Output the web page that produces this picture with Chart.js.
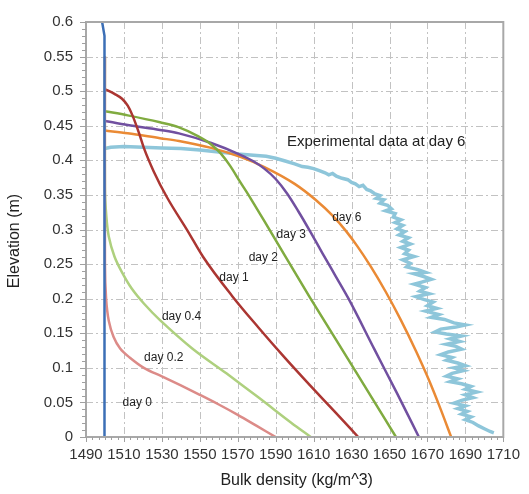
<!DOCTYPE html>
<html>
<head>
<meta charset="utf-8">
<script src="https://cdn.jsdelivr.net/npm/chart.js@4/dist/chart.umd.min.js"></script>
<style>
  html, body { margin: 0; padding: 0; background: #fff; }
</style>
</head>
<body>
<canvas id="chart" width="529" height="494"></canvas>
<script>
// axis ticks
const xTicks = [1490, 1510, 1530, 1550, 1570, 1590, 1610, 1630, 1650, 1670, 1690, 1710];
const yTicks = [0, 0.05, 0.1, 0.15, 0.2, 0.25, 0.3, 0.35, 0.4, 0.45, 0.5, 0.55, 0.6];

// simulated profiles (bulk density, elevation)
const day0X = [1500, 1500, 1499.5, 1498.5];
const day0Y = [0, 0.56, 0.58, 0.6];

const day02X = [1500, 1500, 1500.6, 1502, 1504.5, 1508, 1513, 1520.5, 1530, 1540, 1550, 1560, 1570, 1580, 1590];
const day02Y = [0.55, 0.25, 0.2, 0.168, 0.145, 0.128, 0.115, 0.1, 0.0875, 0.0745, 0.061, 0.047, 0.032, 0.016, 0];

const day04X = [1500, 1500, 1500.7, 1502, 1505, 1509, 1514, 1520.5, 1529, 1546, 1564, 1581, 1598, 1608.5];
const day04Y = [0.55, 0.36, 0.32, 0.29, 0.261, 0.238, 0.215, 0.193, 0.169, 0.128, 0.092, 0.057, 0.021, 0];

const day1X = [1500, 1505, 1509, 1512, 1514.5, 1518, 1520.5, 1525.7, 1532.6, 1543.8, 1551.6, 1567, 1581, 1595, 1608, 1621, 1633.5];
const day1Y = [0.503, 0.496, 0.489, 0.479, 0.465, 0.439, 0.418, 0.384, 0.347, 0.297, 0.261, 0.204, 0.158, 0.114, 0.075, 0.037, 0];

const day2X = [1500, 1512, 1529, 1538.7, 1549, 1556, 1561, 1566, 1571, 1577, 1586, 1608, 1631, 1653.4];
const day2Y = [0.471, 0.465, 0.455, 0.448, 0.435, 0.423, 0.41, 0.392, 0.37, 0.344, 0.303, 0.202, 0.1, 0];

const day3X = [1500, 1512, 1529, 1539, 1556, 1571.4, 1578, 1584, 1590, 1596, 1602, 1608, 1614.6, 1621.5, 1628.4, 1642, 1654, 1665.5];
const day3Y = [0.457, 0.451, 0.444, 0.439, 0.425, 0.408, 0.399, 0.388, 0.373, 0.352, 0.326, 0.298, 0.266, 0.233, 0.2, 0.127, 0.063, 0];

const day6X = [1500, 1512, 1529, 1539, 1556, 1571.4, 1583.5, 1600, 1611, 1620, 1627, 1633, 1640, 1648, 1656, 1664, 1671, 1677, 1682.5];
const day6Y = [0.443, 0.439, 0.432, 0.428, 0.418, 0.405, 0.391, 0.366, 0.343, 0.32, 0.298, 0.276, 0.247, 0.21, 0.169, 0.124, 0.081, 0.04, 0];

// measured profile at day 6
const expX = [1500, 1503, 1510, 1520, 1530, 1540, 1550, 1560, 1570, 1580, 1585, 1590, 1595, 1600, 1604, 1607, 1610, 1613, 1616, 1618, 1620, 1622, 1625, 1628, 1630, 1632, 1634, 1636, 1638, 1640, 1642, 1645, 1643, 1647, 1645, 1649, 1651, 1648, 1653, 1652, 1656, 1653, 1657, 1654, 1658, 1655, 1660, 1657, 1661, 1656, 1660, 1658, 1663, 1657, 1661, 1659, 1665, 1669, 1663, 1668, 1672, 1667, 1663, 1669, 1666, 1671, 1664, 1668, 1673, 1670, 1675, 1669, 1676, 1672, 1679, 1684, 1690, 1685, 1677, 1674, 1680, 1688, 1682, 1687, 1680, 1685, 1688, 1681, 1677, 1683, 1680, 1686, 1690, 1684, 1689, 1683, 1680, 1686, 1682, 1688, 1693, 1690, 1696, 1690, 1694, 1688, 1684, 1690, 1686, 1691, 1688, 1693, 1690, 1694, 1697, 1700, 1703, 1705];
const expY = [0.417, 0.419, 0.42, 0.419, 0.418, 0.417, 0.415, 0.412, 0.409, 0.407, 0.406, 0.403, 0.399, 0.395, 0.391, 0.39, 0.388, 0.385, 0.382, 0.379, 0.381, 0.377, 0.374, 0.372, 0.368, 0.366, 0.362, 0.364, 0.358, 0.356, 0.352, 0.349, 0.345, 0.343, 0.338, 0.335, 0.33, 0.327, 0.323, 0.318, 0.314, 0.31, 0.306, 0.301, 0.297, 0.292, 0.288, 0.283, 0.279, 0.274, 0.27, 0.265, 0.261, 0.256, 0.251, 0.246, 0.242, 0.238, 0.236, 0.232, 0.228, 0.224, 0.221, 0.216, 0.211, 0.207, 0.203, 0.199, 0.195, 0.19, 0.186, 0.182, 0.177, 0.173, 0.17, 0.165, 0.162, 0.159, 0.156, 0.152, 0.149, 0.146, 0.142, 0.138, 0.134, 0.131, 0.127, 0.123, 0.119, 0.115, 0.111, 0.107, 0.103, 0.1, 0.096, 0.092, 0.088, 0.084, 0.08, 0.077, 0.073, 0.069, 0.065, 0.061, 0.057, 0.053, 0.049, 0.045, 0.041, 0.037, 0.033, 0.029, 0.025, 0.021, 0.016, 0.012, 0.008, 0.006];

const pts = (xs, ys) => xs.map((x, i) => ({ x: x, y: ys[i] }));
const font = '"Liberation Sans", Arial, sans-serif';

function curve(xs, ys, color, width, smooth) {
    return {
        data: pts(xs, ys),
        showLine: true,
        borderColor: color,
        borderWidth: width,
        pointRadius: 0,
        tension: smooth === 'bezier' ? 0.35 : 0,
        cubicInterpolationMode: smooth === 'monotone' ? 'monotone' : 'default',
        fill: false
    };
}

// text on the plot, placed in data units
const notes = [
    { text: 'day 0', x: 1517, y: 0.05, size: 12 },
    { text: 'day 0.2', x: 1531, y: 0.114, size: 12 },
    { text: 'day 0.4', x: 1540.4, y: 0.174, size: 12 },
    { text: 'day 1', x: 1568, y: 0.23, size: 12 },
    { text: 'day 2', x: 1583.5, y: 0.259, size: 12 },
    { text: 'day 3', x: 1598.2, y: 0.292, size: 12 },
    { text: 'day 6', x: 1627.5, y: 0.317, size: 12 },
    { text: 'Experimental data at day 6', x: 1643, y: 0.427, size: 15 }
];

const frame = {
    id: 'frame',
    beforeDatasetsDraw(chart) {
        const ctx = chart.ctx, a = chart.chartArea;
        const sx = chart.scales.x, sy = chart.scales.y;
        ctx.save();
        ctx.strokeStyle = '#c2c2c2';
        ctx.lineWidth = 1;
        ctx.setLineDash([7, 3, 2, 3]);
        xTicks.slice(1, -1).forEach(v => {
            const px = Math.round(sx.getPixelForValue(v)) + 0.5;
            ctx.beginPath(); ctx.moveTo(px, a.top); ctx.lineTo(px, a.bottom); ctx.stroke();
        });
        yTicks.slice(1, -1).forEach(v => {
            const py = Math.round(sy.getPixelForValue(v)) + 0.5;
            ctx.beginPath(); ctx.moveTo(a.left, py); ctx.lineTo(a.right, py); ctx.stroke();
        });
        ctx.restore();
    },
    afterDatasetsDraw(chart) {
        const ctx = chart.ctx, a = chart.chartArea;
        const sx = chart.scales.x, sy = chart.scales.y;
        ctx.save();
        // frame
        ctx.strokeStyle = '#a8a8a8';
        ctx.lineWidth = 2;
        ctx.strokeRect(a.left, a.top, a.right - a.left, a.bottom - a.top);
        // major + minor ticks
        ctx.strokeStyle = '#a0a0a0';
        ctx.lineWidth = 1;
        for (let i = 0; i <= 66; i++) {
            const v = 1490 + i * 20 / 6;
            const px = Math.round(sx.getPixelForValue(v)) + 0.5;
            const len = i % 6 === 0 ? 5 : 3;
            ctx.beginPath(); ctx.moveTo(px, a.bottom); ctx.lineTo(px, a.bottom + len); ctx.stroke();
        }
        for (let i = 0; i <= 60; i++) {
            const py = Math.round(sy.getPixelForValue(i / 100)) + 0.5;
            const len = i % 5 === 0 ? 6 : 4;
            ctx.beginPath(); ctx.moveTo(a.left - len, py); ctx.lineTo(a.left, py); ctx.stroke();
        }
        // notes
        ctx.fillStyle = '#222';
        ctx.textAlign = 'center';
        ctx.textBaseline = 'middle';
        notes.forEach(n => {
            ctx.font = n.size + 'px ' + font;
            ctx.fillText(n.text, sx.getPixelForValue(n.x), sy.getPixelForValue(n.y));
        });
        // axis titles
        ctx.font = '16px ' + font;
        ctx.fillText('Bulk density (kg/m^3)', (a.left + a.right) / 2 + 2, 481);
        ctx.translate(15, 241);
        ctx.rotate(-Math.PI / 2);
        ctx.fillText('Elevation (m)', 0, 0);
        ctx.restore();
    }
};

new Chart(document.querySelector('#chart'), {
    type: 'scatter',
    data: {
        datasets: [
            curve(day0X, day0Y, '#3c6fb6', 2.5, 'none'),
            curve(day02X, day02Y, '#dc8b88', 2.5, 'bezier'),
            curve(day04X, day04Y, '#aed07e', 2.5, 'bezier'),
            curve(day1X, day1Y, '#ab3632', 2.5, 'monotone'),
            curve(day2X, day2Y, '#80ab40', 2.5, 'monotone'),
            curve(day3X, day3Y, '#7150a0', 2.5, 'monotone'),
            curve(day6X, day6Y, '#ea8a35', 2.5, 'monotone'),
            curve(expX, expY, '#8ec6da', 3.5, 'none')
        ]
    },
    options: {
        responsive: false,
        animation: false,
        layout: { padding: { left: 0, right: 19, top: 15, bottom: 0 } },
        plugins: { legend: { display: false }, tooltip: { enabled: false } },
        scales: {
            x: {
                type: 'linear',
                min: 1490,
                max: 1710,
                afterBuildTicks: s => { s.ticks = xTicks.map(v => ({ value: v })); },
                afterFit: s => { s.height = 57; },
                grid: { display: false, drawTicks: false },
                border: { display: false },
                ticks: { color: '#333', font: { family: font, size: 15 }, padding: 9, maxRotation: 0, autoSkip: false, callback: v => String(v) }
            },
            y: {
                type: 'linear',
                min: 0,
                max: 0.6,
                afterBuildTicks: s => { s.ticks = yTicks.map(v => ({ value: v })); },
                afterFit: s => { s.width = 86; },
                grid: { display: false, drawTicks: false },
                border: { display: false },
                ticks: { color: '#333', font: { family: font, size: 15 }, padding: 13, autoSkip: false, callback: v => String(v) }
            }
        }
    },
    plugins: [frame]
});
</script>
</body>
</html>
